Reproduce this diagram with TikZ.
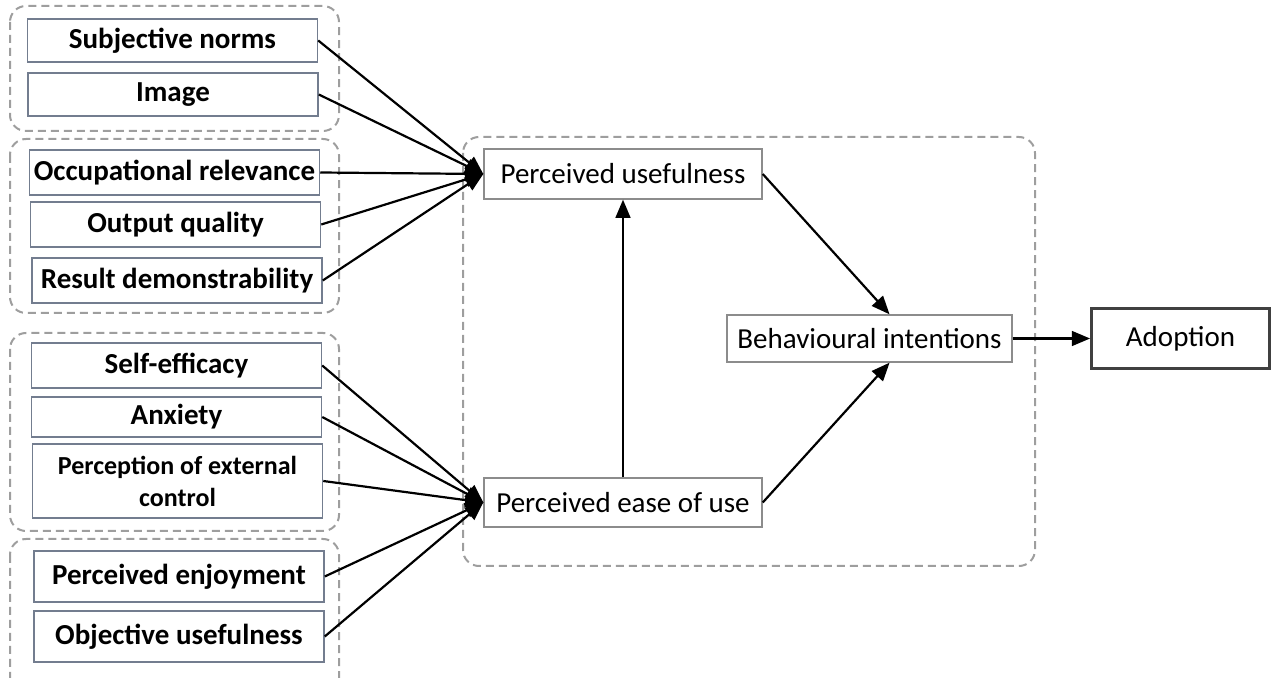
\documentclass[tikz,border=0pt]{standalone}
\usepackage{fontspec}
\setmainfont{Carlito}
\usepackage{tikz}
\usetikzlibrary{arrows}
\definecolor{slategr}{rgb}{0.45,0.49,0.56}
\definecolor{boxgr}{rgb}{0.55,0.55,0.55}
\definecolor{dashgr}{rgb}{0.62,0.62,0.62}
\definecolor{darkgr}{rgb}{0.25,0.25,0.25}
\tikzset{
  factor/.style={draw=slategr,line width=0.75pt,minimum width=145pt,inner sep=0pt,
    font=\fontsize{14.5}{17}\selectfont\bfseries},
  construct/.style={draw=boxgr,line width=0.75pt,minimum width=139pt,inner sep=0pt,
    font=\fontsize{14.5}{17}\selectfont},
  group/.style={draw=dashgr,line width=1pt,dash pattern=on 4pt off 2.5pt,rounded corners=8pt},
  link/.style={->,line width=1.1pt}
}

\begin{document}
\begin{tikzpicture}[line cap=butt,line join=miter,>=triangle 45,x=0.5pt,y=-0.5pt]
  \clip (0,0) rectangle (1276,678);
  \useasboundingbox (0,0) rectangle (1276,678);
  % dashed groups
  \draw [group] (10,6) rectangle (339,131);
  \draw [group] (10,139) rectangle (339,313);
  \draw [group] (10,333) rectangle (339,531);
  \draw [group] (10,539) rectangle (339,700);
  \draw [group] (463,137) rectangle (1035,566);
  % external factors
  \node [factor,minimum height=21.5pt] (sn) at (172.5,40.5) {Subjective norms};
  \node [factor,minimum height=21.5pt] (img) at (173,94.5) {Image};
  \node [factor,minimum height=22.5pt] (occ) at (174.5,172.5) {Occupational relevance};
  \node [factor,minimum height=22.5pt] (outq) at (175.5,224.5) {Output quality};
  \node [factor,minimum height=22.5pt] (resd) at (177,280.5) {Result demonstrability};
  \node [factor,minimum height=22.5pt] (selfe) at (176.5,365.5) {Self-efficacy};
  \node [factor,minimum height=20pt] (anx) at (176.5,417) {Anxiety};
  \node [factor,minimum height=37pt,align=center,font=\fontsize{13}{16}\selectfont\bfseries] (pec) at (177.5,481) {Perception of external\\control};
  \node [factor,minimum height=25.5pt] (enj) at (179,576.5) {Perceived enjoyment};
  \node [factor,minimum height=25.5pt] (obj) at (179,636.5) {Objective usefulness};
  % TAM core
  \node [construct,minimum height=25pt] (pu) at (623,174) {Perceived usefulness};
  \node [construct,minimum height=24.5pt] (peou) at (623,502.5) {Perceived ease of use};
  \node [construct,minimum width=142.5pt,minimum height=23.5pt] (bi) at (869.5,338.5) {Behavioural intentions};
  \node [draw=darkgr,line width=1.5pt,minimum width=89pt,minimum height=30pt,inner sep=0pt,
    font=\fontsize{14.5}{17}\selectfont] (adopt) at (1180.5,338.5) {Adoption};
  % arrows
  \foreach \f in {sn,img,occ,outq,resd}
    \draw [link] (\f.east) -- (pu.west);
  \foreach \f in {selfe,anx,pec,enj,obj}
    \draw [link] (\f.east) -- (peou.west);
  \draw [link] (peou.north) -- (pu.south);
  \draw [link] (pu.east) -- ([xshift=10pt]bi.north);
  \draw [link] (peou.east) -- ([xshift=10pt]bi.south);
  \draw [link] (bi.east) -- (adopt.west);
\end{tikzpicture}
\end{document}
